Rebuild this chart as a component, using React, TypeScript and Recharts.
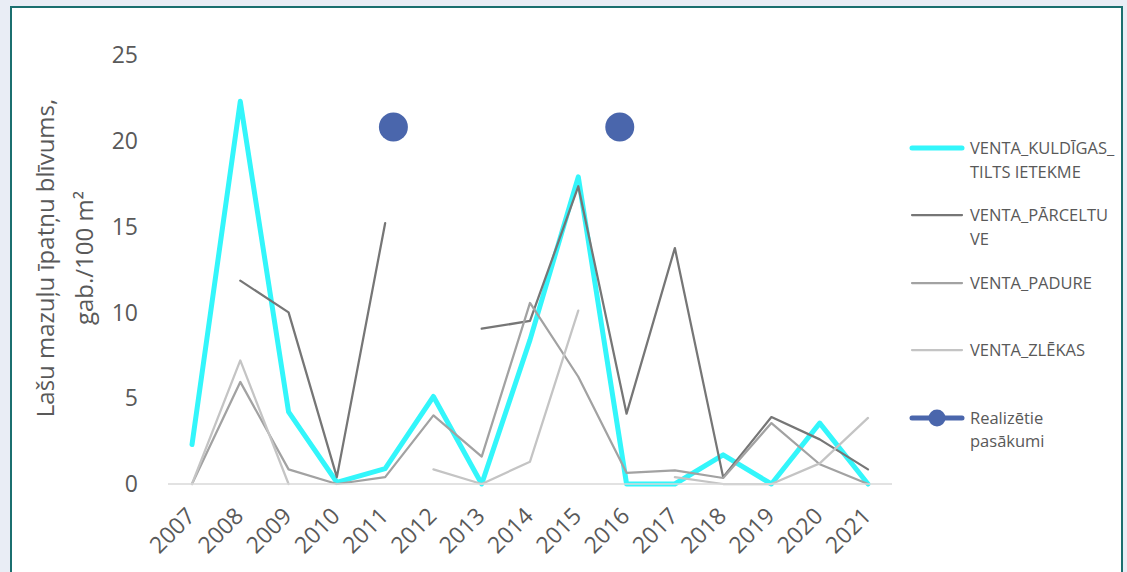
import React from 'react';
import { LineChart, Line, XAxis, YAxis } from 'recharts';

const years = ['2007', '2008', '2009', '2010', '2011', '2012', '2013', '2014', '2015', '2016', '2017', '2018', '2019', '2020', '2021'];

const kuldigas = [2.3, 22.3, 4.2, 0.1, 0.9, 5.1, 0, 8.4, 17.9, 0, 0, 1.7, 0, 3.55, 0];
const parceltuve = [null, 11.85, 10.0, 0.4, 15.2, null, 9.05, 9.5, 17.35, 4.1, 13.75, 0.4, 3.9, 2.6, 0.85];
const padure = [0, 5.95, 0.85, 0, 0.4, 4.0, 1.6, 10.55, 6.25, 0.65, 0.8, 0.35, 3.55, 1.15, 0];
const zlekas = [0, 7.2, 0, null, null, 0.85, 0, 1.3, 10.1, null, 0.4, 0, 0, 1.2, 3.85];

// markers of realised measures sit on a secondary horizontal axis (between categories)
const eventX = [2011.17, 2015.86];
const eventY = [20.8, 20.8];

const yTicks = [0, 5, 10, 15, 20, 25];

const data = years.map((year, i) => ({
  year,
  kuldigas: kuldigas[i],
  parceltuve: parceltuve[i],
  padure: padure[i],
  zlekas: zlekas[i],
}));

const eventData = eventX.map((x, i) => ({ x, realizetie: eventY[i] }));

const FONT = '"Open Sans", sans-serif';
const TEXT = '#595959';

const series = [
  { key: 'kuldigas', lines: ['VENTA_KULDĪGAS_', 'TILTS IETEKME'], color: '#33f6fb', width: 5 },
  { key: 'parceltuve', lines: ['VENTA_PĀRCELTU', 'VE'], color: '#767676', width: 2.25 },
  { key: 'padure', lines: ['VENTA_PADURE'], color: '#a2a2a2', width: 2.25 },
  { key: 'zlekas', lines: ['VENTA_ZLĒKAS'], color: '#c4c4c4', width: 2.25 },
];
const EVENT_COLOR = '#4a66ac';

const AxisTitle = () => (
  <g fontFamily={FONT} fontSize={24} fill={TEXT}>
    <text x={44} y={258} transform="rotate(-90 44 258)" textAnchor="middle" dominantBaseline="central">
      Lašu mazuļu īpatņu blīvums,
    </text>
    <text x={83} y={258} transform="rotate(-90 83 258)" textAnchor="middle" dominantBaseline="central">
      gab./100 m²
    </text>
  </g>
);

const legendItems = [
  ...series.map(s => ({ key: s.key, lines: s.lines, color: s.color, width: s.width, dot: false })),
  { key: 'realizetie', lines: ['Realizētie', 'pasākumi'], color: EVENT_COLOR, width: 5, dot: true },
];

const LegendBox = () => (
  <div style={{ position: 'absolute', left: 908, top: 0, fontFamily: FONT, fontSize: 16.5, color: TEXT }}>
    {legendItems.map((item, i) => (
      <div key={item.key} style={{ position: 'absolute', top: 148 + i * 67.4 - 12, left: 0, display: 'flex', width: 220 }}>
        <svg width={58} height={24} style={{ flex: 'none' }}>
          <line x1={4} y1={12} x2={54} y2={12} stroke={item.color} strokeWidth={item.width} strokeLinecap="round" />
          {item.dot && <circle cx={29} cy={12} r={8.5} fill={item.color} />}
        </svg>
        <div style={{ marginLeft: 4, lineHeight: '23.5px' }}>
          {item.lines.map(l => (
            <div key={l} style={{ whiteSpace: 'nowrap' }}>{l}</div>
          ))}
        </div>
      </div>
    ))}
  </div>
);

export default function App() {
  return (
    <div style={{ position: 'fixed', left: 0, top: 0, width: 1127, height: 572, overflow: 'hidden', background: '#e9edf5' }}>
      <div style={{ position: 'absolute', left: 10, top: 6, width: 1113, height: 640, boxSizing: 'border-box', border: '2px solid #1b6f6f', background: '#fff' }} />
      <div style={{ position: 'absolute', left: 0, top: 0 }}>
        <LineChart width={1127} height={572} data={data} margin={{ top: 55, right: 235, left: 0, bottom: 0 }}>
          <XAxis
            dataKey="year"
            height={88}
            padding={{ left: 24, right: 24 }}
            axisLine={{ stroke: '#d9d9d9', strokeWidth: 1.5 }}
            tickLine={false}
            tickSize={0}
            tickMargin={22}
            interval={0}
            angle={-45}
            textAnchor="end"
            tick={{ fontSize: 23, fill: TEXT, fontFamily: FONT, dx: -7 }}
          />
          <XAxis
            xAxisId="events"
            type="number"
            dataKey="x"
            domain={[2006.5, 2021.5]}
            allowDataOverflow
            hide
          />
          <YAxis
            width={168}
            domain={[0, 25]}
            ticks={yTicks}
            axisLine={false}
            tickLine={false}
            tickSize={0}
            tickMargin={30}
            tick={{ fontSize: 23, fill: TEXT, fontFamily: FONT }}
            label={<AxisTitle />}
          />
          {series.map(s => (
            <Line
              key={s.key}
              dataKey={s.key}
              stroke={s.color}
              strokeWidth={s.width}
              strokeLinecap="round"
              strokeLinejoin="round"
              dot={false}
              activeDot={false}
              isAnimationActive={false}
            />
          ))}
          <Line
            xAxisId="events"
            data={eventData}
            dataKey="realizetie"
            stroke="none"
            dot={{ r: 14.5, fill: EVENT_COLOR, stroke: 'none' }}
            activeDot={false}
            isAnimationActive={false}
          />
        </LineChart>
      </div>
      <LegendBox />
    </div>
  );
}
